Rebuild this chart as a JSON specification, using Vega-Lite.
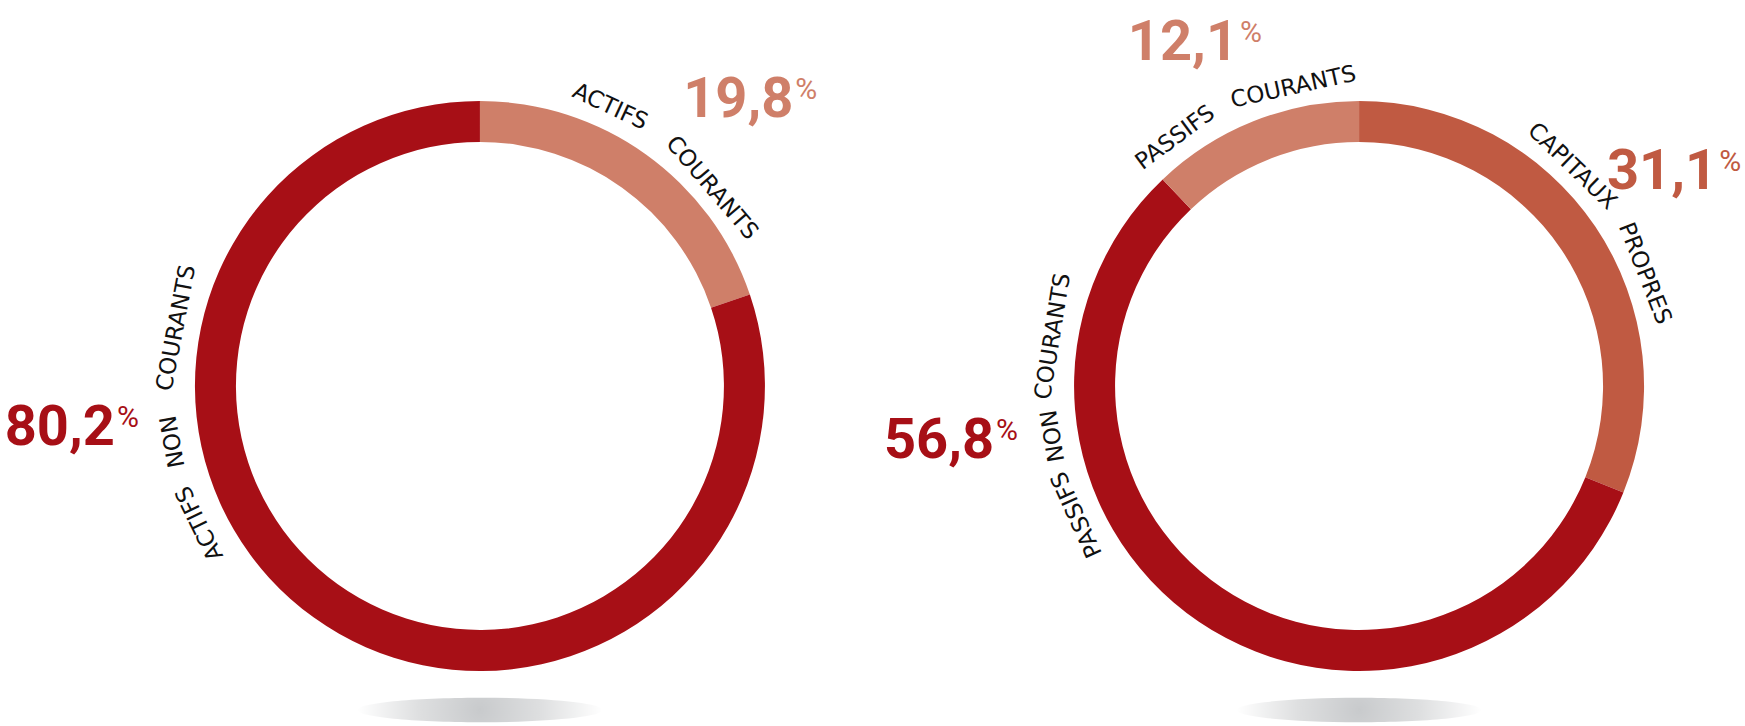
{
  "$schema": "https://vega.github.io/schema/vega-lite/v6.json",
  "width": 1651,
  "height": 680,
  "autosize": {"type": "none"},
  "padding": {"left": 94, "top": 46, "right": 0, "bottom": 0},
  "background": "white",
  "config": {
    "view": {"stroke": null},
    "locale": {"number": {"decimal": ",", "thousands": " ", "grouping": [3], "currency": ["", " €"]}}
  },
  "datasets": {
    "postes": [
      {"bilan": "Actif", "poste": "ACTIFS COURANTS", "part": 19.8, "ordre": 1},
      {"bilan": "Actif", "poste": "ACTIFS NON COURANTS", "part": 80.2, "ordre": 2},
      {"bilan": "Passif", "poste": "CAPITAUX PROPRES", "part": 31.1, "ordre": 1},
      {"bilan": "Passif", "poste": "PASSIFS NON COURANTS", "part": 56.8, "ordre": 2},
      {"bilan": "Passif", "poste": "PASSIFS COURANTS", "part": 12.1, "ordre": 3}
    ],
    "mots": [
      {"bilan": "Actif", "poste": "ACTIFS COURANTS", "id": "ac1", "mot": "ACTIFS"},
      {"bilan": "Actif", "poste": "ACTIFS COURANTS", "id": "ac2", "mot": "COURANTS"},
      {"bilan": "Actif", "poste": "ACTIFS NON COURANTS", "id": "anc1", "mot": "ACTIFS"},
      {"bilan": "Actif", "poste": "ACTIFS NON COURANTS", "id": "anc2", "mot": "NON"},
      {"bilan": "Actif", "poste": "ACTIFS NON COURANTS", "id": "anc3", "mot": "COURANTS"},
      {"bilan": "Passif", "poste": "CAPITAUX PROPRES", "id": "cp1", "mot": "CAPITAUX"},
      {"bilan": "Passif", "poste": "CAPITAUX PROPRES", "id": "cp2", "mot": "PROPRES"},
      {"bilan": "Passif", "poste": "PASSIFS NON COURANTS", "id": "pnc1", "mot": "PASSIFS"},
      {"bilan": "Passif", "poste": "PASSIFS NON COURANTS", "id": "pnc2", "mot": "NON"},
      {"bilan": "Passif", "poste": "PASSIFS NON COURANTS", "id": "pnc3", "mot": "COURANTS"},
      {"bilan": "Passif", "poste": "PASSIFS COURANTS", "id": "pc1", "mot": "PASSIFS"},
      {"bilan": "Passif", "poste": "PASSIFS COURANTS", "id": "pc2", "mot": "COURANTS"}
    ]
  },
  "data": {"name": "postes"},
  "encoding": {
    "x": {"field": "bilan", "type": "nominal", "sort": ["Actif", "Passif"], "scale": {"type": "point", "padding": 0.439}, "axis": null}
  },
  "layer": [
    {
      "transform": [{"aggregate": [{"op": "sum", "field": "part", "as": "total"}], "groupby": ["bilan"]}],
      "mark": {
        "type": "point",
        "shape": "M-1,0A1,0.1,0,1,0,1,0A1,0.1,0,1,0,-1,0Z",
        "filled": true,
        "size": 60025,
        "yOffset": 324,
        "opacity": 1,
        "strokeWidth": 0,
        "fill": {
          "gradient": "radial",
          "x1": 0.5, "y1": 0.5, "r1": 0,
          "x2": 0.5, "y2": 0.5, "r2": 0.5,
          "stops": [
            {"offset": 0, "color": "#c8cacc"},
            {"offset": 0.5, "color": "#dedfe0"},
            {"offset": 1, "color": "#ffffff"}
          ]
        }
      }
    },
    {
      "transform": [{"stack": "part", "groupby": ["bilan"], "sort": [{"field": "ordre", "order": "ascending"}], "offset": "normalize", "as": ["debut", "fin"]}],
      "mark": {"type": "arc", "outerRadius": 285, "innerRadius": 244},
      "encoding": {
        "theta": {"field": "debut", "type": "quantitative", "scale": {"domain": [0, 1]}},
        "theta2": {"field": "fin"},
        "color": {
          "field": "poste", "type": "nominal", "legend": null,
          "scale": {
            "domain": ["ACTIFS COURANTS", "ACTIFS NON COURANTS", "CAPITAUX PROPRES", "PASSIFS NON COURANTS", "PASSIFS COURANTS"],
            "range": ["#cf7f69", "#a70f16", "#c05a42", "#a70f16", "#cf7f69"]
          }
        }
      }
    },
    {
      "encoding": {
        "color": {
          "field": "poste", "type": "nominal", "legend": null,
          "scale": {
            "domain": ["ACTIFS COURANTS", "ACTIFS NON COURANTS", "CAPITAUX PROPRES", "PASSIFS NON COURANTS", "PASSIFS COURANTS"],
            "range": ["#cf7f69", "#a70f16", "#c05a42", "#a70f16", "#cf7f69"]
          }
        }
      },
      "layer": [
        {
          "transform": [{"filter": "datum.poste === 'ACTIFS COURANTS'"}],
          "encoding": {"theta": {"datum": 0.1372, "type": "quantitative", "scale": {"domain": [0, 1]}}},
          "layer": [
            {"mark": {"type": "text", "radius": 412.8, "align": "right", "baseline": "alphabetic", "font": "Roboto", "fontWeight": "bold", "fontSize": 56}, "encoding": {"text": {"field": "part", "type": "quantitative", "format": ".1f"}}},
            {"mark": {"type": "text", "radius": 412.8, "align": "left", "baseline": "alphabetic", "dx": 2, "dy": -18, "font": "Roboto", "fontSize": 30}, "encoding": {"text": {"value": "%"}}}
          ]
        },
        {
          "transform": [{"filter": "datum.poste === 'ACTIFS NON COURANTS'"}],
          "encoding": {"theta": {"datum": 0.7247, "type": "quantitative", "scale": {"domain": [0, 1]}}},
          "layer": [
            {"mark": {"type": "text", "radius": 369.7, "align": "right", "baseline": "alphabetic", "font": "Roboto", "fontWeight": "bold", "fontSize": 56}, "encoding": {"text": {"field": "part", "type": "quantitative", "format": ".1f"}}},
            {"mark": {"type": "text", "radius": 369.7, "align": "left", "baseline": "alphabetic", "dx": 2, "dy": -18, "font": "Roboto", "fontSize": 30}, "encoding": {"text": {"value": "%"}}}
          ]
        },
        {
          "transform": [{"filter": "datum.poste === 'CAPITAUX PROPRES'"}],
          "encoding": {"theta": {"datum": 0.1698, "type": "quantitative", "scale": {"domain": [0, 1]}}},
          "layer": [
            {"mark": {"type": "text", "radius": 408.9, "align": "right", "baseline": "alphabetic", "font": "Roboto", "fontWeight": "bold", "fontSize": 56}, "encoding": {"text": {"field": "part", "type": "quantitative", "format": ".1f"}}},
            {"mark": {"type": "text", "radius": 408.9, "align": "left", "baseline": "alphabetic", "dx": 2, "dy": -18, "font": "Roboto", "fontSize": 30}, "encoding": {"text": {"value": "%"}}}
          ]
        },
        {
          "transform": [{"filter": "datum.poste === 'PASSIFS NON COURANTS'"}],
          "encoding": {"theta": {"datum": 0.7188, "type": "quantitative", "scale": {"domain": [0, 1]}}},
          "layer": [
            {"mark": {"type": "text", "radius": 372.1, "align": "right", "baseline": "alphabetic", "font": "Roboto", "fontWeight": "bold", "fontSize": 56}, "encoding": {"text": {"field": "part", "type": "quantitative", "format": ".1f"}}},
            {"mark": {"type": "text", "radius": 372.1, "align": "left", "baseline": "alphabetic", "dx": 2, "dy": -18, "font": "Roboto", "fontSize": 30}, "encoding": {"text": {"value": "%"}}}
          ]
        },
        {
          "transform": [{"filter": "datum.poste === 'PASSIFS COURANTS'"}],
          "encoding": {"theta": {"datum": 0.9435, "type": "quantitative", "scale": {"domain": [0, 1]}}},
          "layer": [
            {"mark": {"type": "text", "radius": 348.2, "align": "right", "baseline": "alphabetic", "font": "Roboto", "fontWeight": "bold", "fontSize": 56}, "encoding": {"text": {"field": "part", "type": "quantitative", "format": ".1f"}}},
            {"mark": {"type": "text", "radius": 348.2, "align": "left", "baseline": "alphabetic", "dx": 2, "dy": -18, "font": "Roboto", "fontSize": 30}, "encoding": {"text": {"value": "%"}}}
          ]
        }
      ]
    },
    {
      "data": {"name": "mots"},
      "encoding": {"text": {"field": "mot", "type": "nominal"}},
      "layer": [
        {"transform": [{"filter": "datum.id === 'ac1'"}], "mark": {"type": "text", "radius": 308, "angle": 25, "align": "center", "baseline": "middle", "font": "DejaVu Sans", "fontSize": 23, "color": "#111111"}, "encoding": {"theta": {"datum": 0.0694, "type": "quantitative", "scale": {"domain": [0, 1]}}}},
        {"transform": [{"filter": "datum.id === 'ac2'"}], "mark": {"type": "text", "radius": 305, "angle": 49.5, "align": "center", "baseline": "middle", "font": "DejaVu Sans", "fontSize": 23, "color": "#111111"}, "encoding": {"theta": {"datum": 0.1375, "type": "quantitative", "scale": {"domain": [0, 1]}}}},
        {"transform": [{"filter": "datum.id === 'anc1'"}], "mark": {"type": "text", "radius": 312, "angle": 243.9, "align": "center", "baseline": "middle", "font": "DejaVu Sans", "fontSize": 23, "color": "#111111"}, "encoding": {"theta": {"datum": 0.6775, "type": "quantitative", "scale": {"domain": [0, 1]}}}},
        {"transform": [{"filter": "datum.id === 'anc2'"}], "mark": {"type": "text", "radius": 312, "angle": 259.7, "align": "center", "baseline": "middle", "font": "DejaVu Sans", "fontSize": 23, "color": "#111111"}, "encoding": {"theta": {"datum": 0.7214, "type": "quantitative", "scale": {"domain": [0, 1]}}}},
        {"transform": [{"filter": "datum.id === 'anc3'"}], "mark": {"type": "text", "radius": 309, "angle": 280.8, "align": "center", "baseline": "middle", "font": "DejaVu Sans", "fontSize": 23, "color": "#111111"}, "encoding": {"theta": {"datum": 0.78, "type": "quantitative", "scale": {"domain": [0, 1]}}}},
        {"transform": [{"filter": "datum.id === 'cp1'"}], "mark": {"type": "text", "radius": 306, "angle": 44.1, "align": "center", "baseline": "middle", "font": "DejaVu Sans", "fontSize": 23, "color": "#111111"}, "encoding": {"theta": {"datum": 0.1225, "type": "quantitative", "scale": {"domain": [0, 1]}}}},
        {"transform": [{"filter": "datum.id === 'cp2'"}], "mark": {"type": "text", "radius": 307, "angle": 68.5, "align": "center", "baseline": "middle", "font": "DejaVu Sans", "fontSize": 23, "color": "#111111"}, "encoding": {"theta": {"datum": 0.1903, "type": "quantitative", "scale": {"domain": [0, 1]}}}},
        {"transform": [{"filter": "datum.id === 'pnc1'"}], "mark": {"type": "text", "radius": 310, "angle": 245.5, "align": "center", "baseline": "middle", "font": "DejaVu Sans", "fontSize": 23, "color": "#111111"}, "encoding": {"theta": {"datum": 0.682, "type": "quantitative", "scale": {"domain": [0, 1]}}}},
        {"transform": [{"filter": "datum.id === 'pnc2'"}], "mark": {"type": "text", "radius": 310, "angle": 260.7, "align": "center", "baseline": "middle", "font": "DejaVu Sans", "fontSize": 23, "color": "#111111"}, "encoding": {"theta": {"datum": 0.7242, "type": "quantitative", "scale": {"domain": [0, 1]}}}},
        {"transform": [{"filter": "datum.id === 'pnc3'"}], "mark": {"type": "text", "radius": 310, "angle": 279.2, "align": "center", "baseline": "middle", "font": "DejaVu Sans", "fontSize": 23, "color": "#111111"}, "encoding": {"theta": {"datum": 0.7756, "type": "quantitative", "scale": {"domain": [0, 1]}}}},
        {"transform": [{"filter": "datum.id === 'pc1'"}], "mark": {"type": "text", "radius": 309, "angle": 323.5, "align": "center", "baseline": "middle", "font": "DejaVu Sans", "fontSize": 23, "color": "#111111"}, "encoding": {"theta": {"datum": 0.8986, "type": "quantitative", "scale": {"domain": [0, 1]}}}},
        {"transform": [{"filter": "datum.id === 'pc2'"}], "mark": {"type": "text", "radius": 306, "angle": 347.6, "align": "center", "baseline": "middle", "font": "DejaVu Sans", "fontSize": 23, "color": "#111111"}, "encoding": {"theta": {"datum": 0.9656, "type": "quantitative", "scale": {"domain": [0, 1]}}}}
      ]
    }
  ]
}
